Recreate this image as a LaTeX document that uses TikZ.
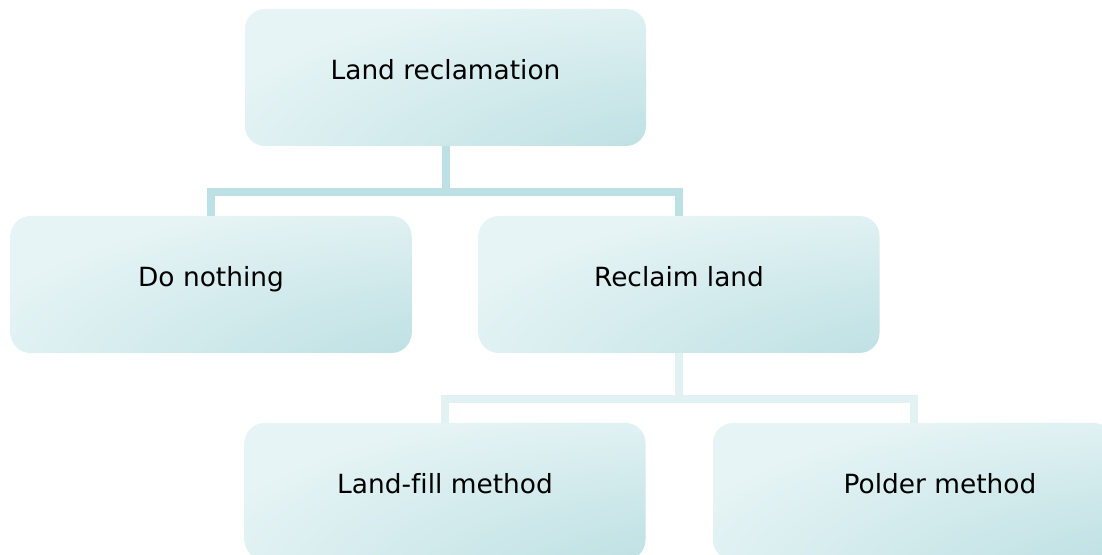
\documentclass[tikz,border=0pt]{standalone}
\usepackage{fontspec}
\setmainfont[Ligatures=NoCommon]{DejaVu Sans}
\definecolor{blight}{HTML}{E6F4F5}
\definecolor{bdark}{HTML}{B9DEE1}
\definecolor{connA}{HTML}{BCE0E3}
\definecolor{connB}{HTML}{E2F2F3}
\pgfdeclareradialshading{boxshade}{\pgfpoint{50bp}{-50bp}}{color(0bp)=(bdark); color(18bp)=(bdark); color(62bp)=(blight); color(150bp)=(blight)}
\begin{document}
\begin{tikzpicture}[x=0.75pt,y=-0.75pt,
  box/.style={rounded corners=15pt, shading=boxshade, minimum width=300.75pt,
    minimum height=102.75pt, inner sep=0pt, text height=10pt, text depth=7pt,
    font=\fontsize{19.8pt}{23pt}\selectfont},
  conA/.style={draw=connA, line width=6pt},
  conB/.style={draw=connB, line width=6pt}]
\useasboundingbox (0,0) rectangle (1102,555);
\clip (0,0) rectangle (1102,555);
\node[box] (top) at (445.5,77.5) {Land reclamation};
\node[box] (do) at (211,284.5) {Do nothing};
\node[box] (rec) at (679,284.5) {Reclaim land};
\node[box] (lf) at (445,491.5) {Land-fill method};
\node[box] (pol) at (913.5,491.5) {\hspace*{39.75pt}Polder method};
\draw[conA] (top.south) -- ++(0,45.5) -| (do.north);
\draw[conA] (top.south) -- ++(0,45.5) -| (rec.north);
\draw[conB] (rec.south) -- ++(0,46) -| (lf.north);
\draw[conB] (rec.south) -- ++(0,46) -| (pol.north);
\end{tikzpicture}
\end{document}
